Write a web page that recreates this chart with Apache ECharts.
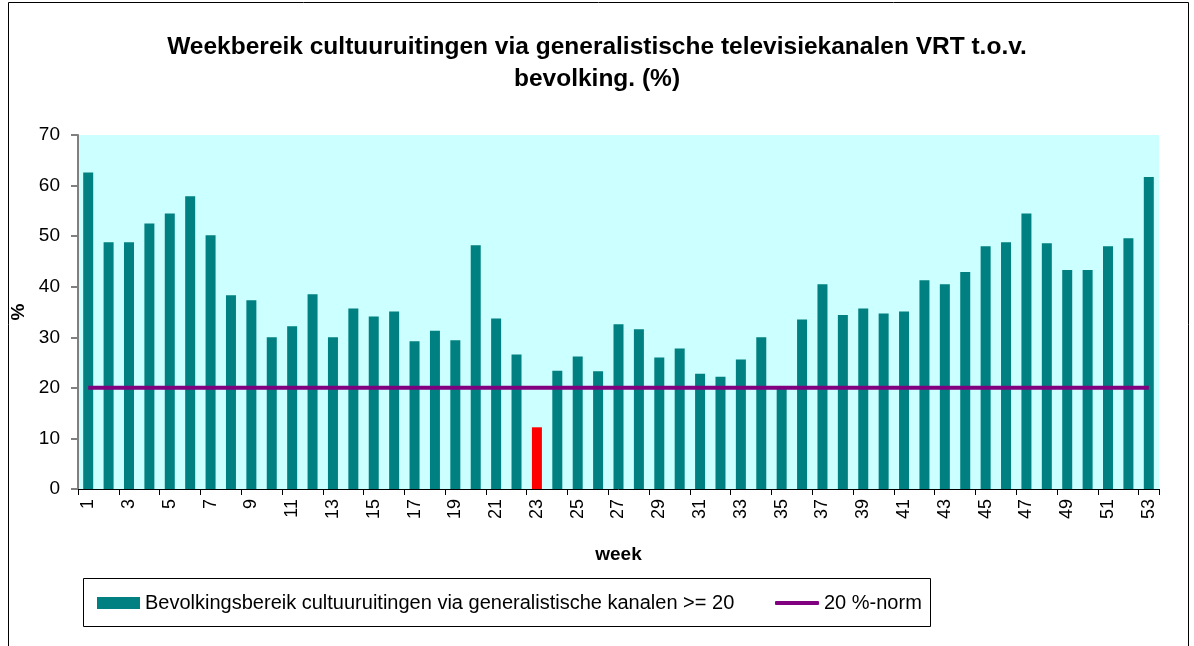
<!DOCTYPE html>
<html>
<head>
<meta charset="utf-8">
<script src="https://cdn.jsdelivr.net/npm/echarts@6/dist/echarts.min.js"></script>
<style>
  html, body { margin: 0; padding: 0; background: #fff; }
  #chart { width: 1194px; height: 646px; }
</style>
</head>
<body>
<div id="chart"></div>
<script>
// weeks 1..53
var weeks = [];
for (var w = 1; w <= 53; w++) weeks.push(String(w));

// weekbereik (%) per week
var reach = [
  62.6, 48.8, 48.8, 52.5, 54.5, 57.9, 50.2, 38.3, 37.3, 30.0,
  32.2, 38.5, 30.0, 35.7, 34.1, 35.1, 29.2, 31.3, 29.4, 48.2,
  33.7, 26.6, 12.2, 23.4, 26.2, 23.3, 32.6, 31.6, 26.0, 27.8,
  22.8, 22.2, 25.6, 30.0, 19.9, 33.5, 40.5, 34.4, 35.7, 34.7,
  35.1, 41.3, 40.5, 42.9, 48.0, 48.8, 54.5, 48.6, 43.3, 43.3,
  48.0, 49.6, 61.7
];
// weeks drawn in red
var redWeeks = ['23'];
// 20 %-norm
var norm = [];
for (var i = 0; i < weeks.length; i++) norm.push(20);

var barName = 'Bevolkingsbereik cultuuruitingen via generalistische kanalen >= 20';
var normName = '20 %-norm';

var barData = reach.map(function (v, i) {
  if (redWeeks.indexOf(weeks[i]) >= 0) return { value: v, itemStyle: { color: '#FF0000' } };
  return v;
});

var font = 'Arial, "Liberation Sans", sans-serif';

var chart = echarts.init(document.getElementById('chart'));
chart.setOption({
  animation: false,
  textStyle: { fontFamily: font, color: '#000' },
  title: {
    text: 'Weekbereik cultuuruitingen via generalistische televisiekanalen VRT t.o.v.\nbevolking. (%)',
    left: 'center',
    top: 26,
    textStyle: { fontSize: 24.5, fontWeight: 'bold', color: '#000', lineHeight: 32, fontFamily: font }
  },
  graphic: [{
    type: 'rect',
    shape: { x: 8.5, y: 2.5, width: 1180, height: 700 },
    style: { fill: 'none', stroke: '#000', lineWidth: 1 },
    silent: true
  }, {
    type: 'rect',
    shape: { x: 83.5, y: 578.5, width: 847, height: 48 },
    style: { fill: '#fff', stroke: '#000', lineWidth: 1 },
    silent: true,
    z: -1
  }],
  grid: {
    left: 78, right: 35, top: 135, bottom: 157,
    show: true, backgroundColor: '#CCFFFF', borderWidth: 0
  },
  legend: [{
    left: 92,
    top: 588,
    itemWidth: 43,
    itemHeight: 12,
    itemGap: 4,
    textStyle: { fontSize: 20, color: '#000', fontFamily: font },
    data: [{ name: barName, icon: 'rect' }]
  }, {
    left: 770,
    top: 588,
    itemWidth: 44,
    itemHeight: 4,
    textStyle: { fontSize: 20, color: '#000', fontFamily: font },
    data: [{ name: normName, icon: 'roundRect' }]
  }],
  xAxis: {
    type: 'category',
    data: weeks,
    name: 'week',
    nameLocation: 'middle',
    nameGap: 56,
    nameTextStyle: { fontSize: 19, fontWeight: 'bold', color: '#000', fontFamily: font },
    axisLine: { lineStyle: { color: '#000', width: 1 } },
    axisTick: { show: true, length: 6, lineStyle: { color: '#000' } },
    axisLabel: { rotate: 90, interval: 1, fontSize: 18, color: '#000', margin: 10, fontFamily: font }
  },
  yAxis: {
    type: 'value',
    min: 0,
    max: 70,
    interval: 10,
    name: '%',
    nameLocation: 'middle',
    nameRotate: 90,
    nameGap: 46,
    nameTextStyle: { fontSize: 19, fontWeight: 'bold', color: '#000', fontFamily: font },
    axisLine: { show: true, lineStyle: { color: '#808080', width: 2 } },
    axisTick: { show: true, length: 7, lineStyle: { color: '#808080', width: 2 } },
    axisLabel: { fontSize: 19, color: '#000', margin: 18, fontFamily: font },
    splitLine: { show: false }
  },
  series: [
    {
      name: barName,
      type: 'bar',
      data: barData,
      barWidth: 10,
      itemStyle: { color: '#008080' }
    },
    {
      name: normName,
      type: 'line',
      data: norm,
      symbol: 'none',
      lineStyle: { color: '#800080', width: 4 },
      itemStyle: { color: '#800080' }
    }
  ]
});
</script>
</body>
</html>
